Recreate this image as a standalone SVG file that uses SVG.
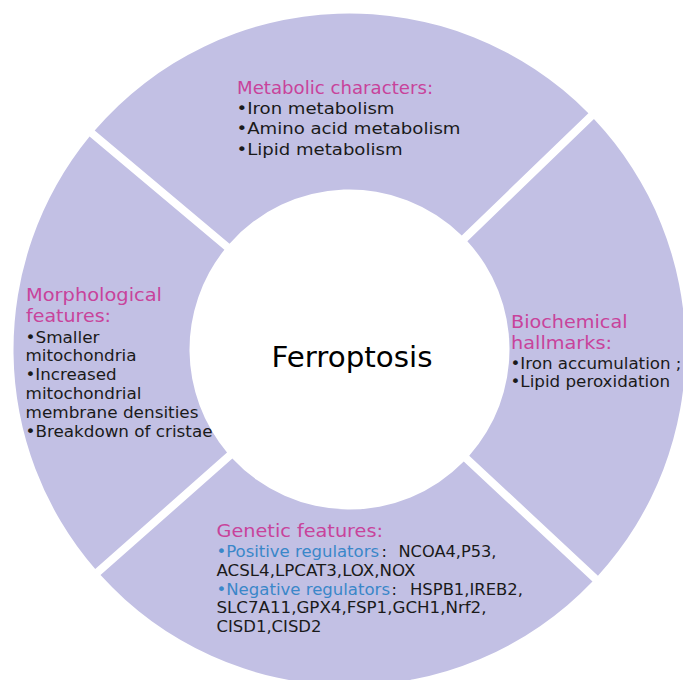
<svg xmlns="http://www.w3.org/2000/svg" width="683" height="680" viewBox="0 0 683 680">
<style>
.seg{fill:#c2c0e4;stroke:none}
text{font-family:"DejaVu Sans","Liberation Sans",sans-serif}
.h{fill:#c8439b;font-size:18px}
.b{fill:#1a1a1a;font-size:16px}
.q{fill:#3a87c9;font-size:16px}
.c{fill:#000;font-size:28.5px}
</style>
<rect x="0" y="0" width="683" height="680" fill="#fff"/>
<g id="metabolic">
<path class="seg" d="M94.70,130.48 A336,336 0 0 1 588.40,113.23 L461.78,235.51 A160,160 0 0 0 229.54,243.63 Z"/>
<text class="h" x="237" y="93.5" textLength="196" lengthAdjust="spacingAndGlyphs">Metabolic characters:</text>
<text class="b" x="236.5" y="113.5" textLength="158" lengthAdjust="spacingAndGlyphs">•Iron metabolism</text>
<text class="b" x="236.5" y="134" textLength="224" lengthAdjust="spacingAndGlyphs">•Amino acid metabolism</text>
<text class="b" x="236.5" y="154.5" textLength="166" lengthAdjust="spacingAndGlyphs">•Lipid metabolism</text>
</g>
<g id="biochemical">
<path class="seg" d="M593.96,118.99 A336,336 0 0 1 597.95,575.71 L469.21,455.67 A160,160 0 0 0 467.34,241.27 Z"/>
<text class="h" x="511" y="327.5" textLength="116.5" lengthAdjust="spacingAndGlyphs">Biochemical</text>
<text class="h" x="511" y="349" textLength="101" lengthAdjust="spacingAndGlyphs">hallmarks:</text>
<text class="b" x="510.5" y="368.5" textLength="171" lengthAdjust="spacingAndGlyphs">•Iron accumulation ;</text>
<text class="b" x="510.5" y="387" textLength="159.5" lengthAdjust="spacingAndGlyphs">•Lipid peroxidation</text>
</g>
<g id="genetic">
<path class="seg" d="M592.49,581.57 A336,336 0 0 1 100.52,575.12 L232.35,458.49 A160,160 0 0 0 463.75,461.52 Z"/>
<text class="h" x="216.5" y="537" textLength="166.5" lengthAdjust="spacingAndGlyphs">Genetic features:</text>
<text class="q" x="216.5" y="557" textLength="162.5" lengthAdjust="spacingAndGlyphs">•Positive regulators</text>
<text class="b" x="381.5" y="557">:</text>
<text class="b" x="398.5" y="557" textLength="98" lengthAdjust="spacingAndGlyphs">NCOA4,P53,</text>
<text class="b" x="216.5" y="575.5" textLength="199" lengthAdjust="spacingAndGlyphs">ACSL4,LPCAT3,LOX,NOX</text>
<text class="q" x="216.5" y="594.5" textLength="173.5" lengthAdjust="spacingAndGlyphs">•Negative regulators</text>
<text class="b" x="391.5" y="594.5">:</text>
<text class="b" x="410" y="594.5" textLength="113" lengthAdjust="spacingAndGlyphs">HSPB1,IREB2,</text>
<text class="b" x="216.5" y="613" textLength="270" lengthAdjust="spacingAndGlyphs">SLC7A11,GPX4,FSP1,GCH1,Nrf2,</text>
<text class="b" x="216.5" y="632" textLength="105" lengthAdjust="spacingAndGlyphs">CISD1,CISD2</text>
</g>
<g id="morphological">
<path class="seg" d="M95.22,569.12 A336,336 0 0 1 89.56,136.60 L224.40,249.75 A160,160 0 0 0 227.05,452.49 Z"/>
<text class="h" x="26" y="300.5" textLength="136" lengthAdjust="spacingAndGlyphs">Morphological</text>
<text class="h" x="26" y="322" textLength="85" lengthAdjust="spacingAndGlyphs">features:</text>
<text class="b" x="25.5" y="342.5" textLength="74" lengthAdjust="spacingAndGlyphs">•Smaller</text>
<text class="b" x="25.5" y="361" textLength="111" lengthAdjust="spacingAndGlyphs">mitochondria</text>
<text class="b" x="25.5" y="380" textLength="91" lengthAdjust="spacingAndGlyphs">•Increased</text>
<text class="b" x="25.5" y="399" textLength="116" lengthAdjust="spacingAndGlyphs">mitochondrial</text>
<text class="b" x="25.5" y="417.5" textLength="173" lengthAdjust="spacingAndGlyphs">membrane densities</text>
<text class="b" x="25.5" y="437" textLength="187" lengthAdjust="spacingAndGlyphs">•Breakdown of cristae</text>
</g>
<g id="center">
<text class="c" x="271.5" y="367.3" textLength="161" lengthAdjust="spacingAndGlyphs">Ferroptosis</text>
</g>
</svg>
